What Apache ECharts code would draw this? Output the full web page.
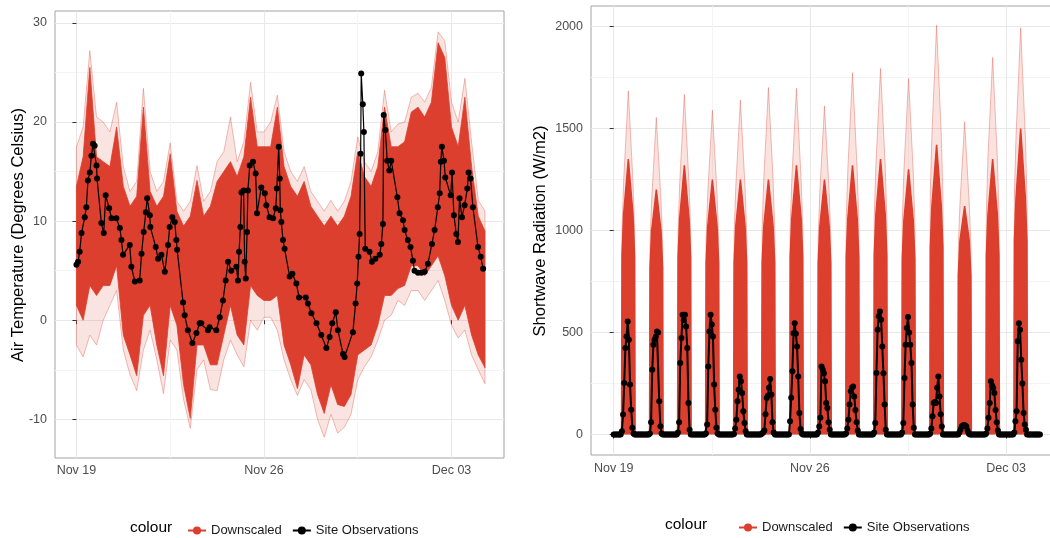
<!DOCTYPE html>
<html>
<head>
<meta charset="utf-8">
<script src="https://cdn.jsdelivr.net/npm/echarts@6/dist/echarts.min.js"></script>
<style>
  html, body { margin: 0; padding: 0; background: #fff; }
  #chart { width: 1050px; height: 538px; }
</style>
</head>
<body>
<div id="chart"></div>
<script>
// x is days since Nov 19 00:00
const xTickDays = [0, 7, 14]
const xTickLabels = ['Nov 19', 'Nov 26', 'Dec 03']
const xMinorDays = [3.5, 10.5]
const tempTicks = [-10, 0, 10, 20, 30]
const tempMinor = [-5, 5, 15, 25]
const swTicks = [0, 500, 1000, 1500, 2000]
const swMinor = [250, 750, 1250, 1750]

// downscaled temperature ensemble, 6-hourly from Nov 19 00:00
const ensStep = 0.25
const tempOuterHi = [17.5, 19.5, 27.2, 20.5, 20.0, 19.0, 22.0, 15.5, 13.0, 14.0, 23.4, 15.0, 13.0, 14.0, 17.9, 12.0,
  11.0, 12.0, 15.6, 12.0, 13.0, 16.0, 17.0, 20.5, 16.0, 18.0, 24.0, 19.0, 19.0, 20.0, 22.7, 17.0,
  15.0, 14.0, 15.5, 13.0, 12.0, 11.0, 12.1, 11.0, 12.0, 14.0, 18.5, 16.0, 15.0, 17.0, 23.2, 19.0,
  19.8, 20.0, 22.5, 22.9, 22.0, 23.5, 29.1, 28.2, 22.0, 20.0, 24.4, 18.0, 12.1, 11.0]
const tempCoreHi = [13.5, 16.5, 25.5, 16.5, 16.0, 15.5, 19.5, 13.5, 11.5, 12.5, 21.5, 13.0, 11.5, 12.5, 16.8, 11.0,
  9.5, 10.5, 14.1, 10.5, 11.5, 14.0, 15.0, 16.0, 14.5, 16.5, 22.5, 17.5, 17.5, 17.5, 21.5, 15.5,
  13.5, 12.5, 14.0, 11.5, 10.5, 9.5, 10.5, 9.5, 10.5, 12.5, 17.0, 14.5, 13.5, 15.5, 21.5, 17.5,
  17.5, 18.0, 21.0, 21.5, 20.5, 22.0, 28.0, 26.5, 19.5, 17.5, 22.5, 15.5, 10.5, 9.0]
const tempCoreLo = [1.5, 0.0, 3.5, 2.5, 3.5, 3.5, 5.5, -1.5, -3.5, -5.6, 0.5, 1.5, -2.5, -5.6, 1.5, -0.5,
  -6.5, -9.9, -2.5, -2.5, -4.5, -4.5, -1.5, 1.5, -1.5, -2.5, 3.5, 2.5, 2.0, 2.0, 2.5, -2.5,
  -4.5, -6.9, -3.5, -4.5, -7.5, -9.4, -6.5, -8.5, -8.7, -7.5, -3.5, -3.0, -2.5, -0.5, 2.5, 2.5,
  3.2, 3.5, 5.5, 5.5, 4.5, 5.5, 6.5, 4.5, 1.5, 0.0, 1.5, -1.5, -3.5, -4.8]
const tempOuterLo = [-2.5, -3.7, -1.5, -2.5, 0.0, 1.5, 3.0, -3.0, -5.5, -7.1, -3.0, -1.0, -4.0, -7.4, -2.0, -3.0,
  -8.0, -10.9, -5.0, -4.0, -7.0, -7.1, -4.0, -2.0, -3.5, -4.7, 0.0, -1.0, 0.3, 0.3, -1.0, -4.0,
  -6.0, -7.6, -6.0, -7.0, -10.0, -11.8, -9.5, -11.4, -10.8, -9.5, -6.0, -4.7, -3.7, -2.0, 0.0, 0.5,
  2.0, 1.5, 3.0, 3.0, 2.0, 3.0, 4.0, 2.0, -0.5, -1.8, -1.0, -3.5, -5.0, -6.4]

// site observations, air temperature [day, degC]
const tempObs = [
  [0, 5.6], [0.06, 5.9], [0.12, 6.9], [0.19, 8.8], [0.31, 10.4], [0.37, 11.4], [0.43, 14.1], [0.5, 14.9],
  [0.56, 16.6], [0.62, 17.8], [0.68, 17.6], [0.75, 15.6], [0.77, 14.3], [0.93, 9.8], [1.02, 8.8], [1.09, 12.6],
  [1.22, 11.3], [1.31, 10.3], [1.49, 10.3], [1.62, 9.3], [1.68, 8.1], [1.74, 6.6], [1.99, 7.6], [2.05, 5.4],
  [2.18, 3.9], [2.36, 4.0], [2.43, 6.7], [2.51, 8.9], [2.59, 10.9], [2.64, 12.3], [2.74, 10.6], [2.76, 9.4],
  [2.96, 7.4], [3.05, 6.2], [3.17, 6.6], [3.3, 4.9], [3.42, 7.6], [3.48, 9.4], [3.58, 10.4], [3.67, 9.9],
  [3.73, 8.1], [3.76, 7.1], [3.98, 1.8], [4.04, 0.5], [4.16, -1.0], [4.33, -2.3], [4.48, -1.3], [4.6, -0.3],
  [4.66, -0.3], [4.91, -1.0], [4.97, -0.7], [5.22, -1.0], [5.35, 0.3], [5.47, 2.0], [5.57, 4.0], [5.66, 5.9],
  [5.78, 5.0], [5.97, 5.4], [6.03, 4.0], [6.07, 6.9], [6.12, 9.4], [6.16, 12.9], [6.24, 13.1], [6.28, 5.9],
  [6.32, 4.2], [6.37, 8.9], [6.4, 13.1], [6.47, 15.6], [6.59, 16.0], [6.69, 14.8], [6.74, 10.8], [6.9, 13.4],
  [7.03, 12.8], [7.09, 11.6], [7.21, 10.4], [7.34, 10.3], [7.44, 11.3], [7.48, 13.3], [7.55, 17.5], [7.59, 14.3],
  [7.61, 11.1], [7.65, 9.9], [7.71, 8.1], [7.77, 7.2], [7.96, 4.4], [8.06, 4.7], [8.21, 3.7], [8.31, 2.3],
  [8.56, 2.3], [8.64, 1.7], [8.77, 0.7], [8.96, -0.3], [9.14, -1.5], [9.33, -2.8], [9.45, -1.7], [9.55, -0.3],
  [9.68, 0.8], [9.76, -1.0], [9.95, -3.4], [10.01, -3.7], [10.32, -1.2], [10.42, 1.7], [10.48, 3.7], [10.53, 6.4],
  [10.57, 8.7], [10.61, 16.8], [10.63, 24.9], [10.69, 21.8], [10.73, 19.0], [10.78, 7.2], [10.94, 6.9], [11.03, 5.9],
  [11.16, 6.2], [11.32, 6.6], [11.38, 7.7], [11.44, 9.7], [11.47, 20.7], [11.53, 19.2], [11.6, 16.1], [11.68, 15.1],
  [11.75, 16.1], [11.98, 12.4], [12.06, 10.8], [12.19, 10.1], [12.25, 9.1], [12.37, 8.1], [12.47, 7.4], [12.56, 6.0],
  [12.62, 5.0], [12.75, 4.8], [12.88, 4.8], [13.0, 4.9], [13.12, 5.7], [13.27, 7.7], [13.37, 9.1], [13.49, 11.4],
  [13.56, 12.8], [13.6, 16.0], [13.64, 17.5], [13.72, 16.1], [13.77, 14.4], [13.97, 12.6], [14.02, 14.9], [14.09, 10.6],
  [14.18, 8.7], [14.24, 7.9], [14.3, 12.3], [14.39, 10.4], [14.49, 11.6], [14.59, 13.3], [14.64, 14.9], [14.71, 14.3],
  [14.8, 11.4], [14.99, 7.4], [15.09, 6.4], [15.18, 5.2]
]

// downscaled shortwave ensemble: per day, values at these hours (0 at first and last)
const swEnsHours = [6.7, 7.1, 8.5, 12.5, 16.5, 17.9, 18.3]
const swOuterRows = [
  [1000, 1240, 1684, 1240, 1000], [930, 1150, 1554, 1150, 930], [990, 1230, 1667, 1230, 990],
  [950, 1180, 1590, 1180, 950], [980, 1210, 1639, 1210, 980], [1010, 1250, 1701, 1250, 1010],
  [1010, 1250, 1696, 1250, 1010], [960, 1190, 1610, 1190, 960], [1050, 1300, 1773, 1300, 1050],
  [1060, 1320, 1794, 1320, 1060], [1040, 1290, 1745, 1290, 1040], [1180, 1470, 2006, 1470, 1180],
  [920, 1130, 1533, 1130, 920], [1090, 1360, 1848, 1360, 1090], [1170, 1460, 1993, 1460, 1170]
]
const swCoreRows = [
  [880, 1080, 1350, 1080, 880], [820, 1000, 1200, 1000, 820], [870, 1060, 1320, 1060, 870],
  [840, 1020, 1250, 1020, 840], [840, 1020, 1250, 1020, 840], [840, 1020, 1250, 1020, 840],
  [870, 1060, 1320, 1060, 870], [840, 1020, 1250, 1020, 840], [870, 1060, 1320, 1060, 870],
  [880, 1080, 1350, 1080, 880], [860, 1050, 1300, 1050, 860], [920, 1120, 1420, 1120, 920],
  [780, 950, 1120, 950, 780], [880, 1080, 1350, 1080, 880], [950, 1160, 1500, 1160, 950]
]

// site observations, shortwave, hourly 07:00..18:00 each day (night is 0)
const swObsFirstHour = 7
const swObsRows = [
  [16, 98, 253, 424, 481, 554, 465, 245, 122, 33, 5, 0],
  [5, 60, 318, 440, 465, 480, 505, 500, 163, 41, 5, 0],
  [10, 60, 351, 473, 587, 560, 587, 530, 424, 155, 24, 0],
  [5, 50, 334, 505, 587, 540, 481, 245, 122, 33, 5, 0],
  [3, 30, 73, 163, 220, 285, 261, 204, 114, 57, 16, 0],
  [5, 10, 20, 100, 179, 190, 230, 272, 196, 60, 10, 0],
  [65, 180, 310, 497, 546, 494, 432, 285, 106, 28, 5, 0],
  [10, 40, 82, 334, 318, 300, 261, 155, 130, 60, 24, 0],
  [5, 30, 73, 147, 212, 230, 236, 187, 120, 60, 20, 0],
  [10, 57, 302, 514, 580, 603, 563, 432, 300, 147, 24, 0],
  [10, 57, 277, 440, 522, 576, 500, 440, 351, 147, 33, 0],
  [5, 30, 90, 155, 160, 155, 230, 285, 187, 100, 40, 0],
  [0, 10, 25, 40, 45, 47, 45, 40, 20, 5, 0, 0],
  [5, 30, 82, 155, 261, 240, 228, 204, 120, 60, 20, 0],
  [10, 65, 114, 457, 546, 514, 367, 250, 106, 50, 24, 0]
]
const swObsEndHour = 5 // last obs on day 15

const RED = '#dc3f2e'
const PINK = 'rgba(220,63,46,0.35)'
const FONT = '"Liberation Sans", Arial, sans-serif'

const ensT = tempOuterHi.map((_, i) => i * ensStep)

// filled band between two envelopes, placed through the axis scales
function band(hi, lo, fill, stroke) {
  return {
    type: 'custom', xAxisIndex: 0, yAxisIndex: 0, silent: true, animation: false, clip: true,
    data: [[0, 0]],
    renderItem: (params, api) => {
      const top = hi.map((v, i) => api.coord([ensT[i], v]))
      const bot = lo.map((v, i) => api.coord([ensT[i], v])).reverse()
      return {
        type: 'polygon',
        shape: { points: top.concat(bot) },
        style: { fill, stroke, lineWidth: 1 }
      }
    }
  }
}

function spikes(rows) {
  const pts = [[0, 0]]
  rows.forEach((r, k) => {
    pts.push([k + swEnsHours[0] / 24, 0])
    r.forEach((v, i) => pts.push([k + swEnsHours[i + 1] / 24, v]))
    pts.push([k + swEnsHours[swEnsHours.length - 1] / 24, 0])
  })
  pts.push([15.25, 0])
  return pts
}

function swObsSeries() {
  const pts = []
  swObsRows.forEach((r, k) => {
    for (let h = 0; h < 24; h++) {
      const j = h - swObsFirstHour
      pts.push([k + h / 24, j >= 0 && j < r.length ? r[j] : 0])
    }
  })
  for (let h = 0; h <= swObsEndHour; h++) pts.push([swObsRows.length + h / 24, 0])
  return pts
}

const tickLabel = (v) => {
  const i = xTickDays.indexOf(v)
  return i >= 0 ? xTickLabels[i] : ''
}

function xAxes(grid, min, max, margin) {
  return [{
    type: 'value', gridIndex: grid, min, max,
    axisLine: { show: false },
    axisTick: { show: true, customValues: xTickDays, length: 4, lineStyle: { color: '#333', width: 1 } },
    axisLabel: { customValues: xTickDays, formatter: tickLabel, margin, color: '#4d4d4d', fontSize: 12.5, fontFamily: FONT },
    splitLine: { show: true, lineStyle: { color: '#e8e8e8', width: 1 } }
  }, {
    type: 'value', gridIndex: grid, min, max, position: 'bottom',
    axisLine: { show: false },
    axisTick: { show: false, customValues: xMinorDays },
    axisLabel: { show: false },
    splitLine: { show: true, lineStyle: { color: '#f4f4f4', width: 1 } }
  }]
}

function yAxes(grid, min, max, ticks, minor) {
  return [{
    type: 'value', gridIndex: grid, min, max,
    axisLine: { show: false },
    axisTick: { show: true, customValues: ticks, length: 4, lineStyle: { color: '#333', width: 1 } },
    axisLabel: { customValues: ticks, formatter: (v) => String(v), margin: 8, color: '#4d4d4d', fontSize: 12.5, fontFamily: FONT },
    splitLine: { show: true, lineStyle: { color: '#e8e8e8', width: 1 } }
  }, {
    type: 'value', gridIndex: grid, min, max,
    axisLine: { show: false },
    axisTick: { show: false, customValues: minor },
    axisLabel: { show: false },
    splitLine: { show: true, lineStyle: { color: '#f4f4f4', width: 1 } }
  }]
}

const base = { type: 'line', showSymbol: false, symbol: 'none', animation: false, silent: true }

const option = {
  animation: false,
  textStyle: { fontFamily: FONT },
  grid: [
    { left: 55, top: 11, width: 449, height: 447, show: true, borderColor: '#a3a3a3', borderWidth: 1, outerBoundsMode: 'none' },
    { left: 591, top: 6, width: 470, height: 449, show: true, borderColor: '#a3a3a3', borderWidth: 1, outerBoundsMode: 'none' }
  ],
  xAxis: [...xAxes(0, -0.8, 15.96, 6), ...xAxes(1, -0.81, 15.96, 7)],
  yAxis: [...yAxes(0, -13.9, 31.2, tempTicks, tempMinor), ...yAxes(1, -100, 2100, swTicks, swMinor)],
  legend: [0, 1].map((g) => ({
    data: ['Downscaled', 'Site Observations'],
    left: g === 0 ? 182 : 733,
    top: g === 0 ? 519 : 516,
    itemWidth: 18, itemHeight: 10, itemGap: 10,
    textStyle: { fontSize: 13, color: '#1a1a1a', fontFamily: FONT },
    selectedMode: false
  })),
  graphic: [
    { type: 'text', x: 18, y: 235, rotation: Math.PI / 2,
      style: { text: 'Air Temperature (Degrees Celsius)', fontSize: 16.5, fill: '#000', align: 'center', verticalAlign: 'middle', fontFamily: FONT } },
    { type: 'text', x: 540, y: 231, rotation: Math.PI / 2,
      style: { text: 'Shortwave Radiation (W/m2)', fontSize: 16.5, fill: '#000', align: 'center', verticalAlign: 'middle', fontFamily: FONT } },
    { type: 'text', x: 130, y: 528, style: { text: 'colour', fontSize: 15.5, fill: '#000', verticalAlign: 'middle', fontFamily: FONT } },
    { type: 'text', x: 665, y: 525, style: { text: 'colour', fontSize: 15.5, fill: '#000', verticalAlign: 'middle', fontFamily: FONT } }
  ],
  series: [
    // legend entry for the ensemble
    { type: 'line', name: 'Downscaled', data: [], symbol: 'circle', symbolSize: 6, itemStyle: { color: RED }, lineStyle: { color: RED, width: 2 } },

    // temperature ensemble: outer envelope, then dense core
    band(tempOuterHi, tempOuterLo, 'rgba(220,63,46,0.14)', PINK),
    band(tempCoreHi, tempCoreLo, RED, 'rgba(220,63,46,0.8)'),
    { type: 'line', name: 'Site Observations', xAxisIndex: 0, yAxisIndex: 0, data: tempObs,
      symbol: 'circle', symbolSize: 6, showSymbol: true, animation: false, silent: true,
      itemStyle: { color: '#000' }, lineStyle: { color: '#000', width: 1.2 } },

    // shortwave ensemble
    { ...base, name: 'sOuter', xAxisIndex: 2, yAxisIndex: 2, data: spikes(swOuterRows),
      lineStyle: { color: PINK, width: 1 }, areaStyle: { color: 'rgba(220,63,46,0.22)' } },
    { ...base, name: 'sCore', xAxisIndex: 2, yAxisIndex: 2, data: spikes(swCoreRows),
      lineStyle: { color: RED, width: 1.5 }, areaStyle: { color: RED, opacity: 1 } },
    { type: 'line', name: 'Site Observations', xAxisIndex: 2, yAxisIndex: 2, data: swObsSeries(),
      symbol: 'circle', symbolSize: 6, showSymbol: true, animation: false, silent: true,
      itemStyle: { color: '#000' }, lineStyle: { color: '#000', width: 2 } }
  ]
}

const chart = echarts.init(document.getElementById('chart'), null, { renderer: 'canvas' })
chart.setOption(option)
</script>
</body>
</html>
